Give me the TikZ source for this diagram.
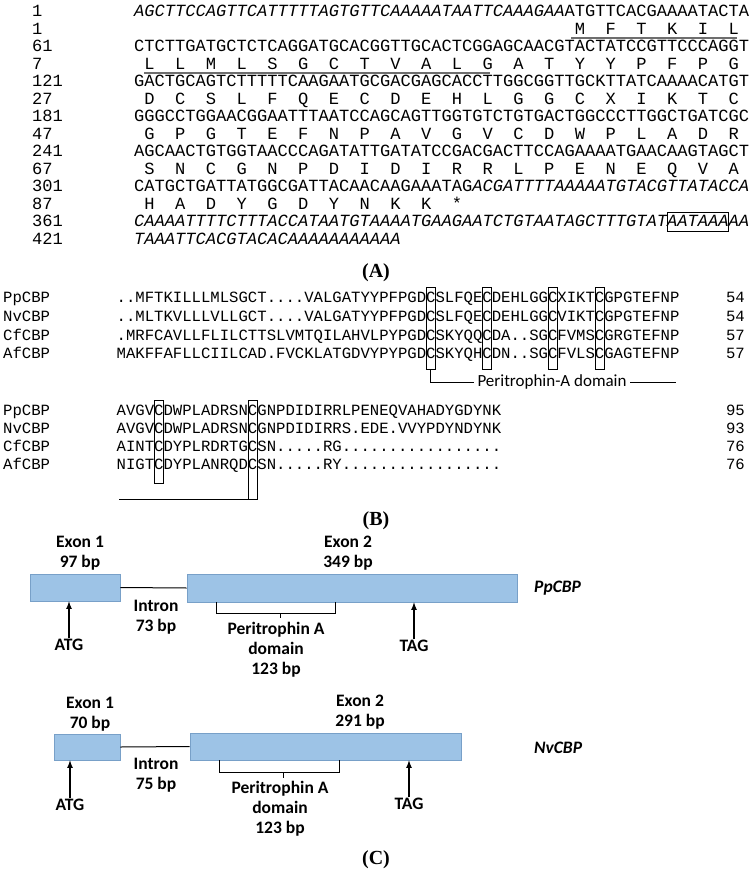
\documentclass[tikz,border=0pt]{standalone}
\usepackage{fontspec}
\setmainfont{Liberation Serif}
\newfontfamily\seqfont{Liberation Mono}
\newfontfamily\labfont{Carlito}
\usetikzlibrary{positioning}
\definecolor{exon_blue}{RGB}{157,195,230}
\definecolor{exon_edge}{RGB}{120,160,200}
\definecolor{ul_grey}{RGB}{110,110,110}
\tikzstyle{seq}=[anchor=base west,inner sep=0pt,font=\seqfont\fontsize{17.08}{19}\selectfont]
\tikzstyle{aa}=[anchor=base,inner sep=0pt,font=\seqfont\fontsize{17.08}{19}\selectfont]
\tikzstyle{seqb}=[anchor=base west,inner sep=0pt,font=\seqfont\fontsize{15.63}{18}\selectfont]
\tikzstyle{numb}=[anchor=base east,inner sep=0pt,font=\seqfont\fontsize{15.63}{18}\selectfont]
\tikzstyle{panel}=[font=\bfseries\fontsize{20}{22}\selectfont]
\tikzstyle{exon}=[rectangle,fill=exon_blue,draw=exon_edge,line width=0.6pt]
\tikzstyle{gl}=[font=\labfont\bfseries\fontsize{17.5}{20}\selectfont,align=center,inner sep=1pt]
\tikzstyle{none}=[]
% amino acid row: baseline y, first codon centre (chars, 0-based), letters
\newcommand{\aarow}[3]{\foreach \a [count=\i from 0] in {#3}
  {\node[aa] (aa#1-\i) at ({134+(#2+3*\i+0.5)*10.25}, #1) {\a};}}
% boxed column in panel B
\newcommand{\colbox}[3]{\draw[line width=0.6pt] ({116.5+(#1-1)*9.38}, #2) rectangle ({116.5+#1*9.38}, #3);}

\begin{document}
\begin{tikzpicture}[x=1pt,y=-1pt]
  \useasboundingbox (0,0) rectangle (752,874);
  % ---- panel A
  \foreach \n/\yy in {1/17,1/34.5,61/52,7/69.5,121/87,27/104.5,181/122,47/139.5,241/157,67/174.5,301/192,87/209.5,361/227,421/244.5}
    \node[seq] (num\yy) at (32,\yy) {\n};
  \node[seq] (s1) at (134,17) {\itshape AGCTTCCAGTTCATTTTTAGTGTTCAAAAATAATTCAAAGAA\upshape ATGTTCACGAAAATACTA};
  \node[seq] (s61) at (134,52) {CTCTTGATGCTCTCAGGATGCACGGTTGCACTCGGAGCAACGTACTATCCGTTCCCAGGT};
  \node[seq] (s121) at (134,87) {GACTGCAGTCTTTTTCAAGAATGCGACGAGCACCTTGGCGGTTGCKTTATCAAAACATGT};
  \node[seq] (s181) at (134,122) {GGGCCTGGAACGGAATTTAATCCAGCAGTTGGTGTCTGTGACTGGCCCTTGGCTGATCGC};
  \node[seq] (s241) at (134,157) {AGCAACTGTGGTAACCCAGATATTGATATCCGACGACTTCCAGAAAATGAACAAGTAGCT};
  \node[seq] (s301) at (134,192) {CATGCTGATTATGGCGATTACAACAAGAAATAG\itshape ACGATTTTAAAAATGTACGTTATACCA};
  \node[seq] (s361) at (134,227) {\itshape CAAAATTTTCTTTACCATAATGTAAAATGAAGAATCTGTAATAGCTTTGTATAATAAAAA};
  \node[seq] (s421) at (134,244.5) {\itshape TAAATTCACGTACACAAAAAAAAAAA};
  \aarow{34.5}{43}{M,F,T,K,I,L}
  \aarow{69.5}{1}{L,L,M,L,S,G,C,T,V,A,L,G,A,T,Y,Y,P,F,P,G}
  \aarow{104.5}{1}{D,C,S,L,F,Q,E,C,D,E,H,L,G,G,C,X,I,K,T,C}
  \aarow{139.5}{1}{G,P,G,T,E,F,N,P,A,V,G,V,C,D,W,P,L,A,D,R}
  \aarow{174.5}{1}{S,N,C,G,N,P,D,I,D,I,R,R,L,P,E,N,E,Q,V,A}
  \aarow{209.5}{1}{H,A,D,Y,G,D,Y,N,K,K,*}
  \draw[ul_grey,line width=1.3pt] (571,38) -- (737,38);
  \draw[ul_grey,line width=1.3pt] (144,73) -- (490,73);
  \draw[line width=0.8pt] ({134+52*10.25},212) rectangle ({134+58*10.25},231);
  \node[panel] (pa) at (376,273) {(A)};
  % ---- panel B
  \foreach \nm/\yy in {PpCBP/302,NvCBP/321,CfCBP/340,AfCBP/358,PpCBP/415,NvCBP/433,CfCBP/451,AfCBP/469}
    \node[seqb] (nm\yy) at (3,\yy) {\nm};
  \node[seqb] (b1) at (116.5,302) {..MFTKILLLMLSGCT....VALGATYYPFPGDCSLFQECDEHLGGCXIKTCGPGTEFNP};
  \node[seqb] (b2) at (116.5,321) {..MLTKVLLLVLLGCT....VALGATYYPFPGDCSLFQECDEHLGGCVIKTCGPGTEFNP};
  \node[seqb] (b3) at (116.5,340) {.MRFCAVLLFLILCTTSLVMTQILAHVLPYPGDCSKYQQCDA..SGCFVMSCGRGTEFNP};
  \node[seqb] (b4) at (116.5,358) {MAKFFAFLLCIILCAD.FVCKLATGDVYPYPGDCSKYQHCDN..SGCFVLSCGAGTEFNP};
  \node[seqb] (b5) at (116.5,415) {AVGVCDWPLADRSNCGNPDIDIRRLPENEQVAHADYGDYNK};
  \node[seqb] (b6) at (116.5,433) {AVGVCDWPLADRSNCGNPDIDIRRS.EDE.VVYPDYNDYNK};
  \node[seqb] (b7) at (116.5,451) {AINTCDYPLRDRTGCSN.....RG.................};
  \node[seqb] (b8) at (116.5,469) {NIGTCDYPLANRQDCSN.....RY.................};
  \foreach \v/\yy in {54/302,54/321,57/340,57/358,95/415,93/433,76/451,76/469}
    \node[numb] (v\yy) at (745,\yy) {\v};
  \foreach \c in {34,40,47,52} \colbox{\c}{287}{369};
  \colbox{5}{400}{483}
  \colbox{15}{400}{499}
  \node[none,font=\labfont\fontsize{17}{19}\selectfont,anchor=west] (pdom) at (474,382) {Peritrophin-A domain};
  \draw[line width=0.8pt] ({116.5+33.5*9.38},369) |- (pdom.west);
  \draw[line width=0.8pt] (pdom.east) -- (pdom.east -| 676,0);
  \draw[line width=0.8pt] (119,499) -- ({116.5+14.5*9.38},499);
  \node[panel] (pb) at (376,521) {(B)};
  % ---- panel C, PpCBP
  \node[exon,minimum width=90pt,minimum height=27pt] (ex1a) at (75,587.5) {};
  \node[exon,minimum width=330pt,minimum height=28pt] (ex2a) at (352,588) {};
  \draw[line width=1pt] (ex1a.east) -- (ex2a.west);
  \node[gl] (l1a) at (80,553) {Exon 1\\97 bp};
  \node[gl] (l2a) at (348,553) {Exon 2\\349 bp};
  \node[gl,font=\labfont\bfseries\itshape\fontsize{17.5}{20}\selectfont,anchor=west] (ga) at (533,588) {PpCBP};
  \node[gl] (ia) at (156,617) {Intron\\73 bp};
  \draw (216,602) -- (216,613) -- (335,613) -- (335,602);
  \draw (280,613) -- (280,618);
  \node[gl] (pda) at (276,650) {Peritrophin A\\domain\\123 bp};
  \node[gl] (atga) at (69,645) {ATG};
  \node[gl] (taga) at (414,646) {TAG};
  \draw[-latex,line width=1.6pt] (atga.north) -- (ex1a.south -| atga.north);
  \draw[-latex,line width=1.6pt] (taga.north) -- (ex2a.south -| taga.north);
  % ---- panel C, NvCBP
  \node[exon,minimum width=66pt,minimum height=26pt] (ex1b) at (87,747) {};
  \node[exon,minimum width=271pt,minimum height=27pt] (ex2b) at (325.5,746.5) {};
  \draw[line width=1pt] (ex1b.east) -- (ex2b.west);
  \node[gl] (l1b) at (90,714) {Exon 1\\70 bp};
  \node[gl] (l2b) at (360,712) {Exon 2\\291 bp};
  \node[gl,font=\labfont\bfseries\itshape\fontsize{17.5}{20}\selectfont,anchor=west] (gb) at (533,748) {NvCBP};
  \node[gl] (ib) at (156,775) {Intron\\75 bp};
  \draw (219,760) -- (219,772) -- (339,772) -- (339,760);
  \draw (283,772) -- (283,778);
  \node[gl] (pdb) at (280,809) {Peritrophin A\\domain\\123 bp};
  \node[gl] (atgb) at (70,805) {ATG};
  \node[gl] (tagb) at (409,804) {TAG};
  \draw[-latex,line width=1.6pt] (atgb.north) -- (ex1b.south -| atgb.north);
  \draw[-latex,line width=1.6pt] (tagb.north) -- (ex2b.south -| tagb.north);
  \node[panel] (pc) at (376,860) {(C)};
\end{tikzpicture}
\end{document}
